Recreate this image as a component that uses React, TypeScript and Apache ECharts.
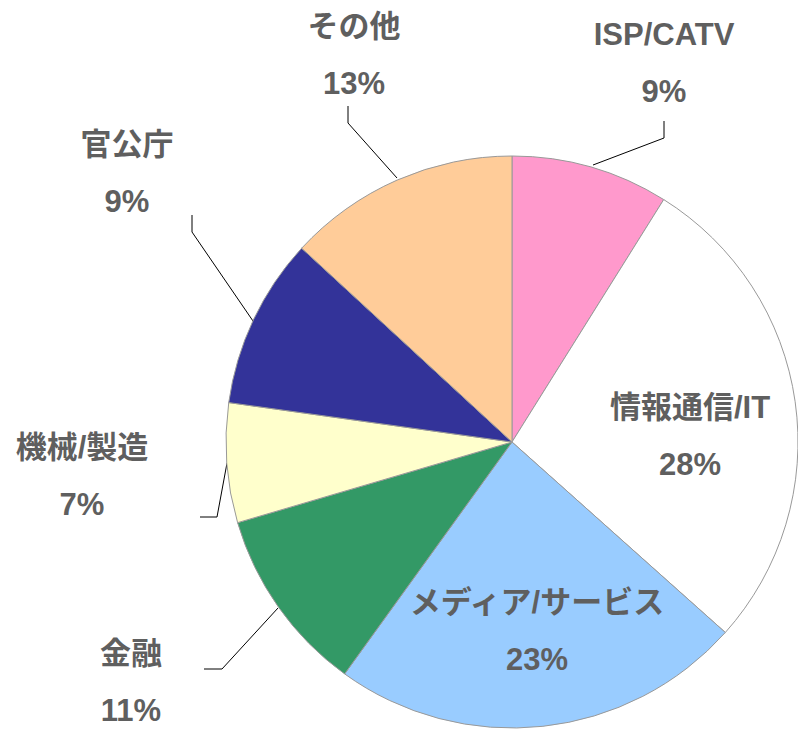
import React, { useEffect, useRef } from "react";
import * as echarts from "echarts";

// Data (clockwise from 12 o'clock)
const categories = ["ISP/CATV", "情報通信/IT", "メディア/サービス", "金融", "機械/製造", "官公庁", "その他"];
const shares = [8.9, 27.7, 23.35, 10.5, 6.75, 9.65, 13.15];
const shareLabels = ["9%", "28%", "23%", "11%", "7%", "9%", "13%"];
const sliceColors = ["#FF99CC", "#FFFFFF", "#99CCFF", "#339966", "#FFFFCC", "#333399", "#FFCC99"];
const insideLabel = [false, true, true, false, false, false, false];

// Label layout (global pixel positions of label block centres and leader lines)
const labelCenters: [number, number][] = [
  [664, 63],
  [690, 436],
  [537, 631],
  [131, 682],
  [82, 476],
  [127, 173],
  [354, 55],
];
const leaderLines: ([number, number][] | null)[] = [
  [[593, 165], [664, 138], [664, 121]],
  null,
  null,
  [[278, 608], [222, 669], [204, 669]],
  [[227, 463], [217, 517], [200, 517]],
  [[253, 321], [192, 232], [192, 215]],
  [[397, 178], [348, 123], [348, 106]],
];

export default function App() {
  const ref = useRef<HTMLDivElement>(null);
  useEffect(() => {
    if (!ref.current) return;
    const chart = echarts.init(ref.current, undefined, { renderer: "svg" });
    chart.setOption({
      animation: false,
      backgroundColor: "#FFFFFF",
      series: [
        {
          type: "pie",
          center: [512, 442],
          radius: 286,
          startAngle: 90,
          clockwise: true,
          silent: true,
          avoidLabelOverlap: false,
          emphasis: { disabled: true },
          itemStyle: { borderColor: "#999999", borderWidth: 1 },
          label: {
            show: true,
            color: "#5F5F5F",
            fontFamily: "'Liberation Sans', Arial, 'Noto Sans CJK JP', sans-serif",
            fontWeight: "bold",
            fontSize: 31,
            lineHeight: 57,
            align: "center",
            verticalAlign: "middle",
            formatter: (p: any) => `${p.name}\n${shareLabels[p.dataIndex]}`,
          },
          labelLine: { show: true, lineStyle: { color: "#000000", width: 1 }, smooth: false },
          labelLayout: (params: any) => {
            const i = params.dataIndex;
            const out: any = { x: labelCenters[i][0], y: labelCenters[i][1], align: "center", verticalAlign: "middle" };
            if (leaderLines[i]) out.labelLinePoints = leaderLines[i];
            return out;
          },
          data: categories.map((name, i) => ({
            name,
            value: shares[i],
            itemStyle: { color: sliceColors[i] },
            label: { position: insideLabel[i] ? "inside" : "outside" },
            labelLine: { show: !insideLabel[i] },
          })),
        },
      ],
    });
    return () => chart.dispose();
  }, []);
  return (
    <div
      ref={ref}
      style={{ position: "fixed", left: 0, top: 0, width: 798, height: 729 }}
    />
  );
}
